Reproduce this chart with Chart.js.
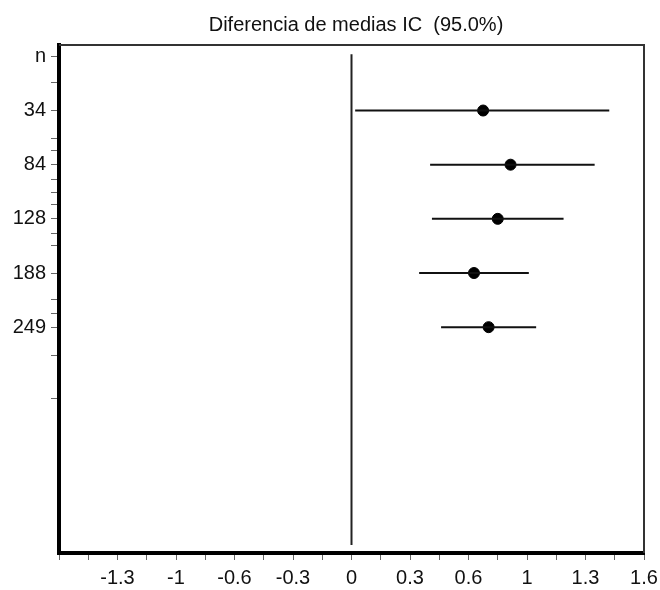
<!DOCTYPE html>
<html>
<head>
<meta charset="utf-8">
<title>Diferencia de medias IC</title>
<script src="https://cdn.jsdelivr.net/npm/chart.js@4.4.1/dist/chart.umd.min.js"></script>
<style>
    body { margin: 0; background: #fff; }
    canvas { display: block; }
</style>
</head>
<body>
<canvas id="forestChart" width="660" height="590"></canvas>
<script>
const chartTitle = 'Diferencia de medias IC  (95.0%)';
const rowLabels = ['n', '34', '84', '128', '188', '249'];
const groups = ['34', '84', '128', '188', '249'];
const means = [0.72, 0.87, 0.80, 0.67, 0.75];
const lower = [0.02, 0.43, 0.44, 0.37, 0.49];
const upper = [1.41, 1.33, 1.16, 0.97, 1.01];

const xTicks = [-1.6, -1.44, -1.28, -1.12, -0.96, -0.8, -0.64, -0.48, -0.32, -0.16, 0, 0.16, 0.32, 0.48, 0.64, 0.8, 0.96, 1.12, 1.28, 1.44, 1.6];
const xTickLabels = ['', '', '-1.3', '', '-1', '', '-0.6', '', '-0.3', '', '0', '', '0.3', '', '0.6', '', '1', '', '1.3', '', '1.6'];
const yMinorTicks = [0.48, 1.51, 1.73, 2.27, 2.51, 2.73, 3.27, 3.5, 4.48, 4.74, 5.53, 6.31];
const zeroLineFrom = -0.04;
const zeroLineTo = 9.02;

const font = { family: '"Liberation Sans", Arial, sans-serif', size: 20 };

// one line per interval, one row per group (row 0 is the "n" header)
const ciDatasets = groups.map((g, i) => ({
    label: g,
    data: [{ x: lower[i], y: i + 1 }, { x: upper[i], y: i + 1 }],
    showLine: true,
    borderColor: '#111',
    borderWidth: 2,
    pointRadius: 0
}));

const meanDataset = {
    label: 'media',
    data: means.map((m, i) => ({ x: m, y: i + 1 })),
    pointStyle: 'circle',
    pointRadius: 5.5,
    backgroundColor: '#000',
    borderColor: '#000',
    borderWidth: 1
};

const zeroDataset = {
    label: 'cero',
    data: [{ x: 0, y: zeroLineFrom }, { x: 0, y: zeroLineTo }],
    showLine: true,
    borderColor: '#222',
    borderWidth: 2,
    pointRadius: 0
};

const yTicks = [0, 1, 2, 3, 4, 5].concat(yMinorTicks).sort((a, b) => a - b);

const framePlugin = {
    id: 'frame',
    afterDraw(chart) {
        const { ctx, chartArea } = chart;
        ctx.save();
        ctx.strokeStyle = '#333';
        ctx.lineWidth = 2;
        ctx.beginPath();
        ctx.moveTo(chartArea.left, chartArea.top);
        ctx.lineTo(chartArea.right, chartArea.top);
        ctx.lineTo(chartArea.right, chartArea.bottom);
        ctx.stroke();
        // title, centred a little right of the canvas like the original
        ctx.fillStyle = '#111';
        ctx.font = font.size + 'px ' + font.family;
        ctx.textAlign = 'center';
        ctx.textBaseline = 'middle';
        ctx.fillText(chartTitle, 356, 25);
        ctx.restore();
    }
};

const ctx = document.getElementById('forestChart').getContext('2d');
new Chart(ctx, {
    type: 'scatter',
    data: {
        datasets: [zeroDataset, ...ciDatasets, meanDataset]
    },
    options: {
        responsive: false,
        animation: false,
        layout: { padding: { top: 45, right: 16, left: 0, bottom: 0 } },
        plugins: {
            legend: { display: false },
            tooltip: { enabled: false },
            title: { display: false }
        },
        scales: {
            x: {
                type: 'linear',
                min: -1.6,
                max: 1.6,
                afterBuildTicks: scale => { scale.ticks = xTicks.map(v => ({ value: v })); },
                afterFit: scale => {
                    scale.height = 37;
                    scale.paddingRight = 0;
                    scale.paddingLeft = 0;
                },
                border: { display: true, color: '#000', width: 4 },
                grid: { drawOnChartArea: false, drawTicks: true, tickLength: 7, tickColor: '#666', tickWidth: 1 },
                ticks: {
                    autoSkip: false,
                    maxRotation: 0,
                    padding: 6,
                    color: '#111',
                    font: font,
                    callback: (value, index) => xTickLabels[index]
                }
            },
            y: {
                type: 'linear',
                reverse: true,
                min: -0.21,
                max: 9.17,
                afterBuildTicks: scale => { scale.ticks = yTicks.map(v => ({ value: v })); },
                afterFit: scale => { scale.width = 59; },
                border: { display: true, color: '#000', width: 4 },
                grid: { drawOnChartArea: false, drawTicks: true, tickLength: 8, tickColor: '#666', tickWidth: 1 },
                ticks: {
                    autoSkip: false,
                    padding: 5,
                    color: '#111',
                    font: font,
                    callback: value => Number.isInteger(value) ? rowLabels[value] : ''
                }
            }
        }
    },
    plugins: [framePlugin]
});
</script>
</body>
</html>
